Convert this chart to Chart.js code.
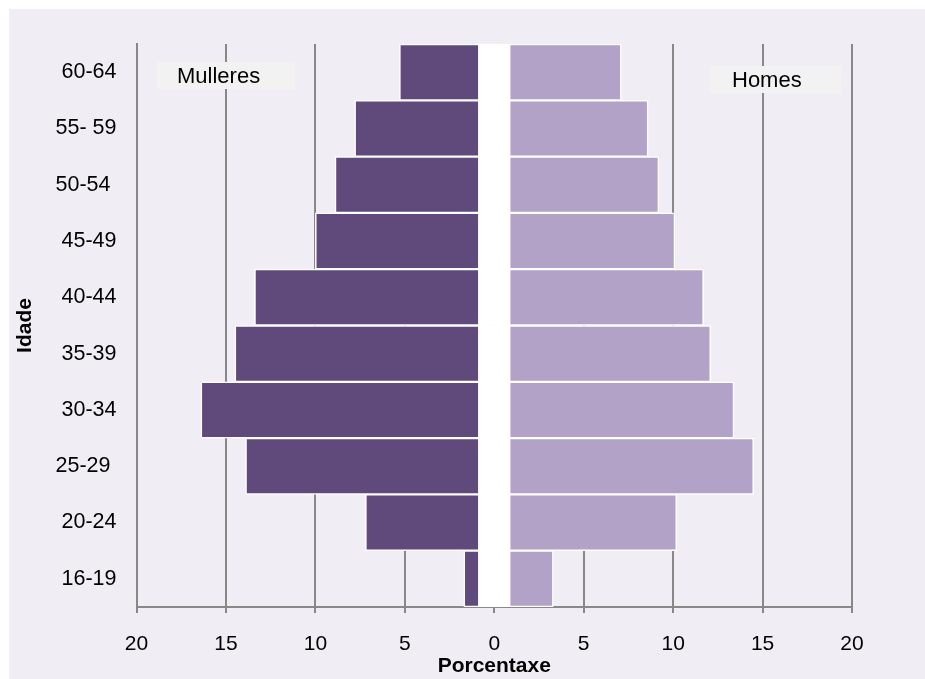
<!DOCTYPE html>
<html>
<head>
<meta charset="utf-8">
<script src="https://cdn.jsdelivr.net/npm/chart.js@4/dist/chart.umd.min.js"></script>
<style>
  html, body { margin: 0; padding: 0; background: #ffffff; }
  #wrap { width: 925px; height: 679px; }
</style>
</head>
<body>
<div id="wrap"><canvas id="piramide"></canvas></div>
<script>
// grupos de idade, de cima para baixo
const idades = ["60-64", "55- 59", "50-54 ", "45-49", "40-44", "35-39", "30-34", "25-29 ", "20-24", "16-19"];
// porcentaxe (lido no eixo)
const mulleres = [5.3, 7.8, 8.9, 10.0, 13.4, 14.5, 16.4, 13.9, 7.2, 1.7];
const homes = [7.1, 8.6, 9.2, 10.1, 11.7, 12.1, 13.4, 14.5, 10.2, 3.3];
const ocos = 0.84; // faixa branca central
const ticksX = [-20, -15, -10, -5, 0, 5, 10, 15, 20];

const fundo = {
  id: "fundo",
  beforeDraw(chart) {
    const ctx = chart.ctx;
    ctx.save();
    ctx.fillStyle = "#f0eef4";
    ctx.fillRect(9, 9, chart.width - 9, chart.height - 9);
    ctx.restore();
  }
};

// caixas "Mulleres" / "Homes"
const rotulos = {
  id: "rotulos",
  afterDraw(chart) {
    const ctx = chart.ctx;
    ctx.save();
    ctx.font = "22px 'Liberation Sans', Arial, sans-serif";
    ctx.textBaseline = "middle";
    ctx.textAlign = "left";
    ctx.fillStyle = "#f2f2f2";
    ctx.fillRect(157, 62, 138, 27);
    ctx.fillRect(710, 66, 131, 27);
    ctx.fillStyle = "#000000";
    ctx.fillText("Mulleres", 177, 77);
    ctx.fillText("Homes", 732, 81);
    ctx.restore();
  }
};

const fonte = "'Liberation Sans', Arial, sans-serif";

new Chart(document.getElementById("piramide"), {
  type: "bar",
  data: {
    labels: idades,
    datasets: [
      {
        label: "Mulleres",
        data: mulleres.map(v => [-ocos, -v]),
        backgroundColor: "#604a7b",
        borderColor: "#ffffff",
        borderWidth: 1.5,
        borderSkipped: false,
        grouped: false,
        barPercentage: 1,
        categoryPercentage: 1
      },
      {
        label: "Homes",
        data: homes.map(v => [ocos, v]),
        backgroundColor: "#b3a2c7",
        borderColor: "#ffffff",
        borderWidth: 1.5,
        borderSkipped: false,
        grouped: false,
        barPercentage: 1,
        categoryPercentage: 1
      },
      {
        label: "oco",
        data: idades.map(() => [-ocos, ocos]),
        backgroundColor: "#ffffff",
        borderWidth: 0,
        grouped: false,
        barPercentage: 1,
        categoryPercentage: 1
      }
    ]
  },
  options: {
    indexAxis: "y",
    responsive: true,
    maintainAspectRatio: false,
    animation: false,
    layout: { padding: { top: 44, right: 73, left: 0, bottom: 0 } },
    plugins: {
      legend: { display: false },
      tooltip: { enabled: false }
    },
    scales: {
      x: {
        min: -20,
        max: 20,
        afterBuildTicks(scale) {
          scale.ticks = ticksX.map(v => ({ value: v }));
        },
        afterFit(scale) { scale.height = 72; },
        grid: { color: "#888888", lineWidth: 2, drawTicks: true, tickLength: 6, tickColor: "#888888" },
        border: { display: true, color: "#888888", width: 2 },
        ticks: {
          padding: 19,
          color: "#000000",
          font: { family: fonte, size: 21 },
          callback: v => Math.abs(v)
        },
        title: {
          display: true,
          text: "Porcentaxe",
          color: "#000000",
          font: { family: fonte, size: 21, weight: "bold" },
          padding: { top: 0, bottom: 0 }
        }
      },
      y: {
        afterFit(scale) { scale.width = 136.5; },
        grid: { display: false, drawTicks: false },
        border: { display: true, color: "#888888", width: 2 },
        ticks: {
          padding: 20,
          color: "#000000",
          font: { family: fonte, size: 21.5 }
        },
        title: {
          display: true,
          text: "Idade",
          color: "#000000",
          font: { family: fonte, size: 21, weight: "bold" },
          padding: { top: 13, bottom: 0 }
        }
      }
    }
  },
  plugins: [fundo, rotulos]
});
</script>
</body>
</html>
